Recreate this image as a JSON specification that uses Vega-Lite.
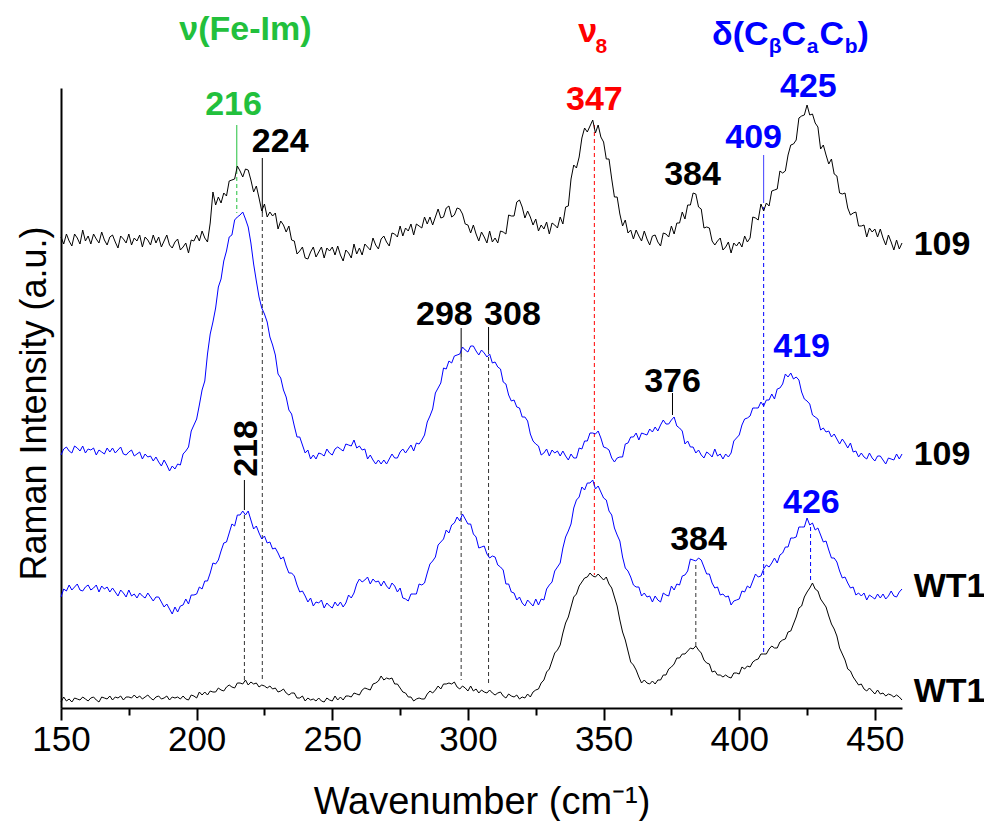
{
"$schema": "https://vega.github.io/schema/vega-lite/v6.json",
"width": 841, "height": 620,
"autosize": {"type": "none"},
"padding": {"left": 61, "top": 88, "right": 82, "bottom": 113},
"background": "white",
"config": {
  "view": {"stroke": null},
  "axis": {"domainColor": "#000", "domainWidth": 2, "tickColor": "#000", "tickWidth": 2, "labelColor": "#000", "titleColor": "#000", "labelFont": "Liberation Sans", "titleFont": "Liberation Sans", "labelFontSize": 35, "titleFontSize": 38, "titleFontWeight": "normal", "grid": false},
  "text": {"font": "Liberation Sans"}
},
"datasets": {
"spec": [
{"w":150,"a":471,"b":253,"c":111,"d":6},{"w":151,"a":464,"b":259,"c":119,"d":11},{"w":152,"a":474,"b":261,"c":117,"d":7},{"w":153,"a":467,"b":257,"c":123,"d":9},{"w":154,"a":462,"b":255,"c":118,"d":6},{"w":155,"a":474,"b":262,"c":121,"d":10},{"w":156,"a":470,"b":260,"c":124,"d":9},{"w":157,"a":464,"b":257,"c":118,"d":8},{"w":158,"a":478,"b":262,"c":117,"d":11},{"w":159,"a":467,"b":255,"c":121,"d":9},
{"w":160,"a":472,"b":259,"c":123,"d":7},{"w":161,"a":464,"b":258,"c":118,"d":10},{"w":162,"a":474,"b":260,"c":120,"d":11},{"w":163,"a":469,"b":253,"c":123,"d":8},{"w":164,"a":465,"b":258,"c":116,"d":6},{"w":165,"a":476,"b":256,"c":122,"d":11},{"w":166,"a":468,"b":254,"c":119,"d":10},{"w":167,"a":463,"b":260,"c":121,"d":9},{"w":168,"a":471,"b":256,"c":116,"d":12},{"w":169,"a":473,"b":260,"c":120,"d":8},
{"w":170,"a":466,"b":255,"c":116,"d":11},{"w":171,"a":460,"b":258,"c":112,"d":10},{"w":172,"a":472,"b":261,"c":118,"d":12},{"w":173,"a":469,"b":254,"c":115,"d":8},{"w":174,"a":465,"b":253,"c":111,"d":11},{"w":175,"a":474,"b":256,"c":118,"d":11},{"w":176,"a":463,"b":258,"c":112,"d":10},{"w":177,"a":470,"b":252,"c":114,"d":13},{"w":178,"a":467,"b":254,"c":110,"d":10},{"w":179,"a":473,"b":256,"c":115,"d":12},
{"w":180,"a":461,"b":249,"c":112,"d":9},{"w":181,"a":471,"b":254,"c":110,"d":11},{"w":182,"a":468,"b":251,"c":115,"d":13},{"w":183,"a":463,"b":252,"c":111,"d":10},{"w":184,"a":473,"b":247,"c":107,"d":8},{"w":185,"a":465,"b":251,"c":111,"d":11},{"w":186,"a":471,"b":246,"c":111,"d":12},{"w":187,"a":461,"b":242,"c":106,"d":9},{"w":188,"a":467,"b":248,"c":101,"d":10},{"w":189,"a":473,"b":243,"c":104,"d":12},
{"w":190,"a":463,"b":237,"c":99,"d":8},{"w":191,"a":460,"b":242,"c":94,"d":11},{"w":192,"a":466,"b":239,"c":101,"d":10},{"w":193,"a":469,"b":244,"c":96,"d":11},{"w":194,"a":458,"b":243,"c":102,"d":9},{"w":195,"a":461,"b":254,"c":103,"d":12},{"w":196,"a":465,"b":257,"c":109,"d":9},{"w":197,"a":455,"b":261,"c":104,"d":8},{"w":198,"a":468,"b":277,"c":113,"d":13},{"w":199,"a":467,"b":283,"c":113,"d":12},
{"w":200,"a":473,"b":289,"c":114,"d":10},{"w":201,"a":467,"b":303,"c":121,"d":16},{"w":202,"a":477,"b":318,"c":119,"d":13},{"w":203,"a":470,"b":327,"c":127,"d":16},{"w":204,"a":466,"b":354,"c":127,"d":13},{"w":205,"a":485,"b":374,"c":135,"d":17},{"w":206,"a":516,"b":386,"c":145,"d":16},{"w":207,"a":503,"b":400,"c":144,"d":16},{"w":208,"a":511,"b":421,"c":148,"d":20},{"w":209,"a":505,"b":429,"c":157,"d":18},
{"w":210,"a":515,"b":447,"c":165,"d":17},{"w":211,"a":512,"b":457,"c":166,"d":21},{"w":212,"a":527,"b":471,"c":175,"d":23},{"w":213,"a":528,"b":473,"c":184,"d":21},{"w":214,"a":529,"b":488,"c":182,"d":20},{"w":215,"a":542,"b":491,"c":193,"d":25},{"w":216,"a":537,"b":493,"c":193,"d":25},{"w":217,"a":531,"b":496,"c":197,"d":24},{"w":218,"a":539,"b":489,"c":193,"d":28},{"w":219,"a":538,"b":481,"c":197,"d":23},
{"w":220,"a":528,"b":465,"c":188,"d":26},{"w":221,"a":516,"b":444,"c":179,"d":24},{"w":222,"a":522,"b":427,"c":182,"d":25},{"w":223,"a":510,"b":411,"c":175,"d":21},{"w":224,"a":497,"b":400,"c":169,"d":23},{"w":225,"a":504,"b":394,"c":172,"d":22},{"w":226,"a":491,"b":386,"c":165,"d":20},{"w":227,"a":496,"b":371,"c":166,"d":22},{"w":228,"a":492,"b":363,"c":159,"d":19},{"w":229,"a":495,"b":353,"c":160,"d":20},
{"w":230,"a":479,"b":334,"c":155,"d":16},{"w":231,"a":487,"b":330,"c":149,"d":17},{"w":232,"a":483,"b":318,"c":151,"d":19},{"w":233,"a":476,"b":311,"c":142,"d":15},{"w":234,"a":482,"b":298,"c":135,"d":13},{"w":235,"a":468,"b":294,"c":135,"d":15},{"w":236,"a":467,"b":282,"c":132,"d":15},{"w":237,"a":454,"b":271,"c":123,"d":10},{"w":238,"a":457,"b":271,"c":116,"d":10},{"w":239,"a":461,"b":263,"c":117,"d":12},
{"w":240,"a":450,"b":255,"c":112,"d":7},{"w":241,"a":449,"b":258,"c":106,"d":10},{"w":242,"a":456,"b":249,"c":110,"d":8},{"w":243,"a":461,"b":253,"c":102,"d":9},{"w":244,"a":451,"b":249,"c":106,"d":7},{"w":245,"a":456,"b":255,"c":105,"d":10},{"w":246,"a":461,"b":254,"c":108,"d":7},{"w":247,"a":450,"b":252,"c":100,"d":6},{"w":248,"a":460,"b":259,"c":105,"d":10},{"w":249,"a":457,"b":255,"c":102,"d":8},
{"w":250,"a":461,"b":253,"c":100,"d":7},{"w":251,"a":453,"b":259,"c":106,"d":12},{"w":252,"a":462,"b":261,"c":102,"d":8},{"w":253,"a":453,"b":259,"c":106,"d":11},{"w":254,"a":447,"b":257,"c":101,"d":8},{"w":255,"a":458,"b":264,"c":105,"d":12},{"w":256,"a":455,"b":263,"c":113,"d":12},{"w":257,"a":450,"b":262,"c":110,"d":11},{"w":258,"a":464,"b":268,"c":115,"d":15},{"w":259,"a":454,"b":260,"c":124,"d":14},
{"w":260,"a":460,"b":262,"c":129,"d":13},{"w":261,"a":453,"b":258,"c":126,"d":18},{"w":262,"a":464,"b":259,"c":128,"d":20},{"w":263,"a":461,"b":249,"c":131,"d":19},{"w":264,"a":458,"b":253,"c":124,"d":18},{"w":265,"a":470,"b":248,"c":129,"d":24},{"w":266,"a":463,"b":244,"c":126,"d":25},{"w":267,"a":459,"b":248,"c":127,"d":27},{"w":268,"a":469,"b":244,"c":122,"d":32},{"w":269,"a":472,"b":248,"c":127,"d":28},
{"w":270,"a":466,"b":244,"c":122,"d":30},{"w":271,"a":462,"b":249,"c":119,"d":29},{"w":272,"a":475,"b":254,"c":125,"d":30},{"w":273,"a":474,"b":250,"c":122,"d":24},{"w":274,"a":471,"b":250,"c":116,"d":24},{"w":275,"a":482,"b":256,"c":120,"d":20},{"w":276,"a":472,"b":259,"c":110,"d":16},{"w":277,"a":480,"b":255,"c":109,"d":15},{"w":278,"a":477,"b":259,"c":107,"d":11},{"w":279,"a":484,"b":263,"c":114,"d":11},
{"w":280,"a":473,"b":257,"c":114,"d":7},{"w":281,"a":484,"b":265,"c":114,"d":9},{"w":282,"a":482,"b":264,"c":124,"d":10},{"w":283,"a":480,"b":268,"c":123,"d":9},{"w":284,"a":491,"b":273,"c":125,"d":9},{"w":285,"a":484,"b":286,"c":135,"d":14},{"w":286,"a":491,"b":292,"c":144,"d":17},{"w":287,"a":483,"b":299,"c":147,"d":15},{"w":288,"a":491,"b":315,"c":151,"d":18},{"w":289,"a":499,"b":320,"c":163,"d":22},
{"w":290,"a":490,"b":325,"c":166,"d":19},{"w":291,"a":491,"b":340,"c":169,"d":24},{"w":292,"a":500,"b":339,"c":178,"d":24},{"w":293,"a":502,"b":347,"c":175,"d":25},{"w":294,"a":491,"b":345,"c":183,"d":24},{"w":295,"a":493,"b":352,"c":185,"d":26},{"w":296,"a":500,"b":353,"c":191,"d":21},{"w":297,"a":499,"b":354,"c":187,"d":19},{"w":298,"a":494,"b":361,"c":194,"d":22},{"w":299,"a":484,"b":358,"c":189,"d":20},
{"w":300,"a":483,"b":356,"c":184,"d":17},{"w":301,"a":475,"b":362,"c":184,"d":22},{"w":302,"a":483,"b":362,"c":174,"d":17},{"w":303,"a":474,"b":357,"c":171,"d":19},{"w":304,"a":467,"b":353,"c":160,"d":15},{"w":305,"a":476,"b":358,"c":161,"d":18},{"w":306,"a":471,"b":355,"c":162,"d":16},{"w":307,"a":465,"b":351,"c":154,"d":15},{"w":308,"a":477,"b":354,"c":150,"d":18},{"w":309,"a":466,"b":345,"c":152,"d":15},
{"w":310,"a":470,"b":346,"c":151,"d":13},{"w":311,"a":465,"b":341,"c":143,"d":15},{"w":312,"a":477,"b":339,"c":141,"d":16},{"w":313,"a":476,"b":326,"c":138,"d":12},{"w":314,"a":474,"b":324,"c":124,"d":10},{"w":315,"a":493,"b":313,"c":124,"d":14},{"w":316,"a":492,"b":307,"c":116,"d":12},{"w":317,"a":492,"b":308,"c":115,"d":11},{"w":318,"a":506,"b":301,"c":108,"d":13},{"w":319,"a":508,"b":300,"c":111,"d":9},
{"w":320,"a":501,"b":291,"c":105,"d":11},{"w":321,"a":490,"b":291,"c":102,"d":10},{"w":322,"a":497,"b":287,"c":108,"d":14},{"w":323,"a":491,"b":274,"c":105,"d":11},{"w":324,"a":483,"b":267,"c":102,"d":16},{"w":325,"a":489,"b":264,"c":109,"d":18},{"w":326,"a":477,"b":262,"c":103,"d":19},{"w":327,"a":483,"b":253,"c":109,"d":25},{"w":328,"a":479,"b":255,"c":108,"d":28},{"w":329,"a":486,"b":259,"c":119,"d":36},
{"w":330,"a":474,"b":252,"c":123,"d":39},{"w":331,"a":485,"b":258,"c":126,"d":47},{"w":332,"a":483,"b":255,"c":137,"d":55},{"w":333,"a":480,"b":257,"c":141,"d":58},{"w":334,"a":491,"b":252,"c":145,"d":63},{"w":335,"a":484,"b":257,"c":160,"d":75},{"w":336,"a":501,"b":252,"c":171,"d":85},{"w":337,"a":502,"b":248,"c":177,"d":91},{"w":338,"a":529,"b":254,"c":184,"d":101},{"w":339,"a":543,"b":250,"c":200,"d":111},
{"w":340,"a":540,"b":250,"c":208,"d":114},{"w":341,"a":551,"b":260,"c":211,"d":122},{"w":342,"a":570,"b":259,"c":221,"d":126},{"w":343,"a":580,"b":267,"c":218,"d":130},{"w":344,"a":576,"b":267,"c":225,"d":131},{"w":345,"a":582,"b":275,"c":225,"d":135},{"w":346,"a":588,"b":275,"c":228,"d":132},{"w":347,"a":575,"b":274,"c":219,"d":131},{"w":348,"a":583,"b":277,"c":222,"d":134},{"w":349,"a":571,"b":270,"c":216,"d":131},
{"w":350,"a":566,"b":261,"c":210,"d":128},{"w":351,"a":549,"b":260,"c":208,"d":131},{"w":352,"a":549,"b":258,"c":197,"d":124},{"w":353,"a":529,"b":250,"c":193,"d":120},{"w":354,"a":511,"b":246,"c":180,"d":111},{"w":355,"a":511,"b":250,"c":173,"d":102},{"w":356,"a":494,"b":251,"c":167,"d":88},{"w":357,"a":482,"b":251,"c":151,"d":76},{"w":358,"a":488,"b":264,"c":140,"d":68},{"w":359,"a":475,"b":265,"c":137,"d":57},
{"w":360,"a":478,"b":271,"c":131,"d":46},{"w":361,"a":469,"b":271,"c":123,"d":43},{"w":362,"a":478,"b":275,"c":121,"d":38},{"w":363,"a":472,"b":268,"c":121,"d":31},{"w":364,"a":467,"b":275,"c":112,"d":25},{"w":365,"a":477,"b":274,"c":115,"d":28},{"w":366,"a":469,"b":273,"c":111,"d":25},{"w":367,"a":463,"b":279,"c":112,"d":24},{"w":368,"a":472,"b":276,"c":106,"d":27},{"w":369,"a":473,"b":281,"c":112,"d":24},
{"w":370,"a":466,"b":277,"c":108,"d":28},{"w":371,"a":462,"b":283,"c":106,"d":28},{"w":372,"a":475,"b":288,"c":115,"d":33},{"w":373,"a":474,"b":284,"c":113,"d":33},{"w":374,"a":471,"b":284,"c":112,"d":39},{"w":375,"a":482,"b":288,"c":122,"d":41},{"w":376,"a":474,"b":291,"c":118,"d":44},{"w":377,"a":485,"b":282,"c":124,"d":50},{"w":378,"a":485,"b":280,"c":123,"d":50},{"w":379,"a":496,"b":277,"c":132,"d":54},
{"w":380,"a":489,"b":264,"c":133,"d":54},{"w":381,"a":503,"b":267,"c":137,"d":57},{"w":382,"a":503,"b":261,"c":149,"d":60},{"w":383,"a":515,"b":261,"c":148,"d":59},{"w":384,"a":514,"b":255,"c":147,"d":62},{"w":385,"a":501,"b":258,"c":150,"d":58},{"w":386,"a":499,"b":253,"c":148,"d":55},{"w":387,"a":480,"b":250,"c":141,"d":48},{"w":388,"a":481,"b":256,"c":134,"d":45},{"w":389,"a":480,"b":254,"c":134,"d":44},
{"w":390,"a":467,"b":251,"c":125,"d":36},{"w":391,"a":463,"b":259,"c":120,"d":37},{"w":392,"a":467,"b":252,"c":121,"d":33},{"w":393,"a":470,"b":254,"c":113,"d":33},{"w":394,"a":458,"b":249,"c":114,"d":31},{"w":395,"a":461,"b":254,"c":111,"d":33},{"w":396,"a":466,"b":251,"c":112,"d":31},{"w":397,"a":455,"b":255,"c":103,"d":30},{"w":398,"a":465,"b":267,"c":107,"d":35},{"w":399,"a":462,"b":270,"c":108,"d":35},
{"w":400,"a":466,"b":273,"c":109,"d":34},{"w":401,"a":461,"b":283,"c":117,"d":41},{"w":402,"a":472,"b":289,"c":116,"d":39},{"w":403,"a":466,"b":290,"c":122,"d":42},{"w":404,"a":470,"b":292,"c":120,"d":41},{"w":405,"a":491,"b":300,"c":127,"d":46},{"w":406,"a":490,"b":300,"c":134,"d":48},{"w":407,"a":488,"b":300,"c":131,"d":49},{"w":408,"a":504,"b":306,"c":132,"d":54},{"w":409,"a":497,"b":302,"c":139,"d":54},
{"w":410,"a":505,"b":308,"c":143,"d":54},{"w":411,"a":502,"b":308,"c":141,"d":59},{"w":412,"a":517,"b":314,"c":145,"d":62},{"w":413,"a":518,"b":309,"c":150,"d":60},{"w":414,"a":519,"b":319,"c":145,"d":60},{"w":415,"a":537,"b":320,"c":153,"d":66},{"w":416,"a":535,"b":324,"c":155,"d":68},{"w":417,"a":537,"b":334,"c":161,"d":69},{"w":418,"a":553,"b":331,"c":161,"d":76},{"w":419,"a":563,"b":335,"c":170,"d":77},
{"w":420,"a":564,"b":329,"c":170,"d":84},{"w":421,"a":568,"b":331,"c":171,"d":91},{"w":422,"a":590,"b":328,"c":181,"d":100},{"w":423,"a":592,"b":316,"c":181,"d":102},{"w":424,"a":593,"b":309,"c":181,"d":111},{"w":425,"a":603,"b":307,"c":190,"d":116},{"w":426,"a":593,"b":304,"c":183,"d":120},{"w":427,"a":594,"b":293,"c":185,"d":125},{"w":428,"a":585,"b":291,"c":178,"d":119},{"w":429,"a":581,"b":289,"c":180,"d":117},
{"w":430,"a":559,"b":278,"c":173,"d":109},{"w":431,"a":563,"b":280,"c":166,"d":105},{"w":432,"a":553,"b":276,"c":167,"d":101},{"w":433,"a":544,"b":277,"c":158,"d":92},{"w":434,"a":549,"b":271,"c":150,"d":84},{"w":435,"a":534,"b":274,"c":150,"d":79},{"w":436,"a":532,"b":269,"c":146,"d":72},{"w":437,"a":515,"b":264,"c":137,"d":60},{"w":438,"a":514,"b":269,"c":130,"d":54},{"w":439,"a":515,"b":265,"c":131,"d":48},
{"w":440,"a":500,"b":260,"c":125,"d":39},{"w":441,"a":493,"b":265,"c":120,"d":37},{"w":442,"a":495,"b":256,"c":121,"d":31},{"w":443,"a":496,"b":257,"c":113,"d":27},{"w":444,"a":482,"b":251,"c":115,"d":23},{"w":445,"a":482,"b":255,"c":112,"d":24},{"w":446,"a":483,"b":251,"c":115,"d":19},{"w":447,"a":471,"b":249,"c":108,"d":17},{"w":448,"a":480,"b":255,"c":113,"d":20},{"w":449,"a":476,"b":250,"c":111,"d":17},
{"w":450,"a":479,"b":247,"c":109,"d":14},{"w":451,"a":471,"b":252,"c":114,"d":18},{"w":452,"a":479,"b":252,"c":110,"d":14},{"w":453,"a":470,"b":248,"c":114,"d":15},{"w":454,"a":463,"b":244,"c":109,"d":12},{"w":455,"a":473,"b":250,"c":112,"d":14},{"w":456,"a":466,"b":249,"c":117,"d":13},{"w":457,"a":458,"b":248,"c":112,"d":11},{"w":458,"a":468,"b":254,"c":111,"d":13},{"w":459,"a":459,"b":249,"c":116,"d":11},
{"w":460,"a":465,"b":254,"c":119,"d":8}
],
"rules": [
{"w":214.8,"v":583,"v2":538,"c":"#22c03c","k":"s"},
{"w":214.8,"v":538,"v2":495,"c":"#22c03c","k":"d"},
{"w":224.2,"v":550,"v2":495,"c":"#000000","k":"s"},
{"w":224.2,"v":495,"v2":28,"c":"#333333","k":"d"},
{"w":217.6,"v":228,"v2":198,"c":"#000000","k":"s"},
{"w":217.6,"v":193,"v2":28,"c":"#333333","k":"d"},
{"w":297.5,"v":380,"v2":351,"c":"#000000","k":"s"},
{"w":297.5,"v":351,"v2":28,"c":"#333333","k":"d"},
{"w":307.6,"v":381,"v2":358,"c":"#000000","k":"s"},
{"w":307.6,"v":358,"v2":25,"c":"#333333","k":"d"},
{"w":346.6,"v":583,"v2":133,"c":"#ff0000","k":"d"},
{"w":375.4,"v":315,"v2":293,"c":"#000000","k":"s"},
{"w":409.0,"v":553,"v2":505,"c":"#4040ff","k":"s"},
{"w":409.0,"v":501,"v2":56,"c":"#0000ff","k":"d"},
{"w":384.0,"v":143,"v2":61,"c":"#333333","k":"d"},
{"w":426.3,"v":181,"v2":125,"c":"#0000ff","k":"d"}
],
"labels": [
{"w":213.6,"v":593,"t":"216","c":"#22c03c","k":"c"},
{"w":230.8,"v":556,"t":"224","c":"#000000","k":"c"},
{"w":346.6,"v":598,"t":"347","c":"#ff0000","k":"c"},
{"w":382.8,"v":523,"t":"384","c":"#000000","k":"c"},
{"w":405.3,"v":560,"t":"409","c":"#0000ff","k":"c"},
{"w":425.5,"v":611,"t":"425","c":"#0000ff","k":"c"},
{"w":291.3,"v":383,"t":"298","c":"#000000","k":"c"},
{"w":316.4,"v":383,"t":"308","c":"#000000","k":"c"},
{"w":375.4,"v":316,"t":"376","c":"#000000","k":"c"},
{"w":423.0,"v":351,"t":"419","c":"#0000ff","k":"c"},
{"w":385.0,"v":158,"t":"384","c":"#000000","k":"c"},
{"w":426.6,"v":195,"t":"426","c":"#0000ff","k":"c"},
{"w":218.0,"v":668,"t":"ν(Fe-Im)","c":"#22c03c","k":"c"},
{"w":464.3,"v":453,"t":"109","c":"#000000","k":"l"},
{"w":464.3,"v":243,"t":"109","c":"#000000","k":"l"},
{"w":464.3,"v":111,"t":"WT1","c":"#000000","k":"l"},
{"w":464.3,"v":6,"t":"WT1","c":"#000000","k":"l"},
{"w":340.7,"v":666,"t":"ν","c":"#ff0000","k":"l"},
{"w":390.0,"v":663,"t":"δ(C","c":"#0000ff","k":"l"},
{"w":415.6,"v":663,"t":"C","c":"#0000ff","k":"l"},
{"w":429.6,"v":663,"t":"C","c":"#0000ff","k":"l"},
{"w":443.6,"v":663,"t":")","c":"#0000ff","k":"l"},
{"w":347.0,"v":655,"t":"8","c":"#ff0000","k":"s"},
{"w":410.9,"v":655,"t":"β","c":"#0000ff","k":"s"},
{"w":424.9,"v":655,"t":"a","c":"#0000ff","k":"s"},
{"w":438.9,"v":655,"t":"b","c":"#0000ff","k":"s"},
{"w":222.3,"v":259.5,"t":"218","c":"#000000","k":"r"}
]
},
"encoding": {
  "x": {"field": "w", "type": "quantitative", "scale": {"domain": [150, 460], "nice": false, "zero": false},
        "axis": {"title": "Wavenumber (cm⁻¹)", "values": [150,175,200,225,250,275,300,325,350,375,400,425,450],
                 "labelExpr": "datum.value % 50 === 0 ? datum.label : ''",
                 "tickSize": {"condition": {"test": "datum.value % 50 === 0", "value": 12}, "value": 7},
                 "labelPadding": 2, "titlePadding": 26, "labelFlush": false, "labelOverlap": false}},
  "y": {"field": "v", "type": "quantitative", "scale": {"domain": [0, 620], "nice": false, "zero": false},
        "axis": {"title": "Raman Intensity (a.u.)", "ticks": false, "labels": false, "titlePadding": 8, "titleFontSize": 36, "titleY": 315}}
},
"layer": [
  {"data": {"name": "rules"}, "transform": [{"filter": "datum.k == 'd'"}],
   "mark": {"type": "rule", "strokeWidth": 1, "strokeDash": [4, 3]},
   "encoding": {"y2": {"field": "v2"}, "color": {"field": "c", "type": "nominal", "scale": null}}},
  {"data": {"name": "rules"}, "transform": [{"filter": "datum.k == 's'"}],
   "mark": {"type": "rule", "strokeWidth": 1},
   "encoding": {"y2": {"field": "v2"}, "color": {"field": "c", "type": "nominal", "scale": null}}},
  {"data": {"name": "spec"}, "transform": [{"fold": ["a", "b", "c", "d"], "as": ["s", "v"]}],
   "mark": {"type": "line", "strokeWidth": 1},
   "encoding": {"detail": {"field": "s", "type": "nominal"},
                "color": {"field": "s", "type": "nominal", "scale": {"domain": ["a", "b", "c", "d"], "range": ["#000000", "#0000ff", "#0000ff", "#000000"]}, "legend": null}}},
  {"data": {"name": "labels"}, "transform": [{"filter": "datum.k == 'c'"}],
   "mark": {"type": "text", "fontSize": 34, "fontWeight": "bold", "align": "center", "baseline": "alphabetic", "font": "Liberation Sans"},
   "encoding": {"text": {"field": "t"}, "color": {"field": "c", "type": "nominal", "scale": null}}},
  {"data": {"name": "labels"}, "transform": [{"filter": "datum.k == 'l'"}],
   "mark": {"type": "text", "fontSize": 34, "fontWeight": "bold", "align": "left", "baseline": "alphabetic", "font": "Liberation Sans"},
   "encoding": {"text": {"field": "t"}, "color": {"field": "c", "type": "nominal", "scale": null}}},
  {"data": {"name": "labels"}, "transform": [{"filter": "datum.k == 's'"}],
   "mark": {"type": "text", "fontSize": 21, "fontWeight": "bold", "align": "left", "baseline": "alphabetic", "font": "Liberation Sans"},
   "encoding": {"text": {"field": "t"}, "color": {"field": "c", "type": "nominal", "scale": null}}},
  {"data": {"name": "labels"}, "transform": [{"filter": "datum.k == 'r'"}],
   "mark": {"type": "text", "fontSize": 34, "fontWeight": "bold", "align": "center", "baseline": "alphabetic", "angle": 270, "font": "Liberation Sans"},
   "encoding": {"text": {"field": "t"}, "color": {"field": "c", "type": "nominal", "scale": null}}}
]
}
